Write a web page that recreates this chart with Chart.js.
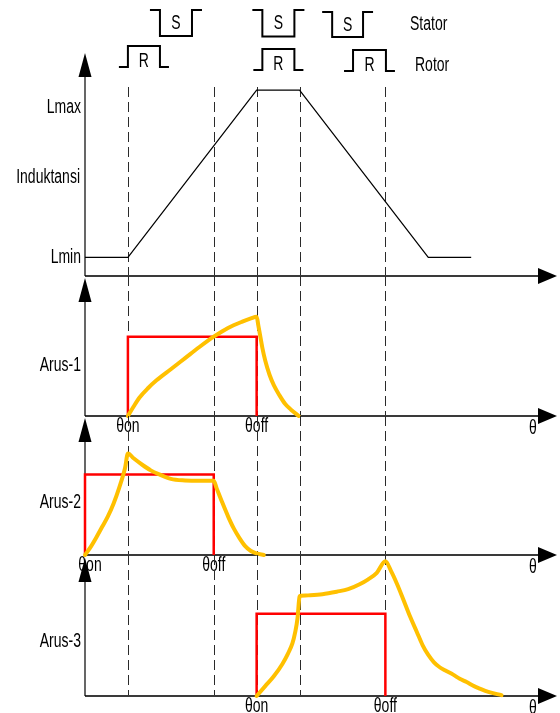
<!DOCTYPE html>
<html>
<head>
<meta charset="utf-8">
<script src="https://cdn.jsdelivr.net/npm/chart.js@4/dist/chart.umd.min.js"></script>
<style>
  html, body { margin: 0; padding: 0; background: #fff; }
  #wrap { position: relative; width: 560px; height: 713px; overflow: hidden; }
  #wrap canvas { position: absolute; left: 0; top: 0; }
</style>
</head>
<body>
<div id="wrap">
  <canvas id="pInd" width="560" height="713"></canvas>
  <canvas id="pA1" width="560" height="713"></canvas>
  <canvas id="pA2" width="560" height="713"></canvas>
  <canvas id="pA3" width="560" height="713"></canvas>
</div>
<script>
// ---- rotor angle (deg) ----
const thetaMax = 165;
const markAngles = [15, 45, 60, 75, 105];   // dashed reference instants

// ---- inductance profile ----
const Lmin = 1;
const Lmax = 10;
const indTheta = [0, 15, 60, 75, 120, 135];
const indValue = [Lmin, Lmin, Lmax, Lmax, Lmin, Lmin];

// ---- phase current, case 1 (on at 15, off at 60) ----
const ref1Theta = [15, 15, 60, 60];
const ref1Value = [0, 1, 1, 0];
const arus1Theta = [15, 17, 19, 22, 25, 30, 35, 40, 45, 50, 55, 58, 60, 60.6, 61.2, 62, 63, 64.5, 66, 68, 70, 72, 74.7];
const arus1Value = [0, 0.12, 0.23, 0.35, 0.45, 0.59, 0.73, 0.87, 1.0, 1.11, 1.19, 1.23, 1.25, 1.14, 1.02, 0.86, 0.70, 0.52, 0.39, 0.26, 0.15, 0.08, 0];

// ---- phase current, case 2 (on at 0, off at 45) ----
const ref2Theta = [0, 0, 45, 45];
const ref2Value = [0, 1, 1, 0];
const arus2Theta = [0, 2, 4, 6, 8, 10, 12, 14, 15, 17, 20, 23, 26, 30, 35, 40, 45, 46, 48, 50, 52, 54, 56, 58, 60, 62.5];
const arus2Value = [0, 0.1, 0.22, 0.35, 0.48, 0.64, 0.84, 1.08, 1.26, 1.2, 1.12, 1.05, 1.0, 0.945, 0.925, 0.92, 0.92, 0.83, 0.65, 0.48, 0.33, 0.21, 0.11, 0.05, 0.02, 0];

// ---- phase current, case 3 (on at 60, off at 105) ----
const ref3Theta = [60, 60, 105, 105];
const ref3Value = [0, 1, 1, 0];
const arus3Theta = [60, 63, 66, 69, 71, 72.5, 73.5, 74.3, 75, 75.4, 78, 83, 88, 92, 96, 99, 102, 105, 107, 109, 111, 113.6, 116, 118, 120, 122, 124, 126, 128.7, 131, 133.4, 136, 138, 141, 145.6];
const arus3Value = [0, 0.12, 0.24, 0.39, 0.52, 0.64, 0.78, 0.95, 1.21, 1.22, 1.225, 1.24, 1.27, 1.30, 1.36, 1.42, 1.50, 1.64, 1.52, 1.37, 1.20, 0.97, 0.78, 0.62, 0.50, 0.41, 0.35, 0.31, 0.26, 0.21, 0.17, 0.12, 0.09, 0.05, 0.01];

// ---- stator / rotor pole sketches (box edges in deg) ----
const statorPoles = [[26.2, 37.4], [62.0, 73.2], [86.4, 97.2]];
const rotorPoles  = [[15.0, 26.2], [62.0, 73.2], [93.7, 105.2]];

const FONT = '14px "Liberation Sans", Arial, sans-serif';
const STRETCH = 1.4;
const CURRENT_COLOR = '#ffc000';
const REF_COLOR = '#ff0000';

function pts(xs, ys) { return xs.map((x, i) => ({ x: x, y: ys[i] })); }

function text(ctx, str, x, y, align) {
  ctx.save();
  ctx.font = FONT;
  ctx.fillStyle = '#000';
  ctx.textAlign = align || 'center';
  ctx.textBaseline = 'middle';
  ctx.translate(x, y);
  ctx.scale(1, STRETCH);
  ctx.fillText(str, 0, 0);
  ctx.restore();
}

function drawAxes(chart, dashTop) {
  const ctx = chart.ctx;
  const a = chart.chartArea;
  const xs = chart.scales.x, ys = chart.scales.y;
  const y0 = ys.getPixelForValue(0);
  ctx.save();
  // dashed reference lines
  ctx.strokeStyle = '#2a2a2a';
  ctx.lineWidth = 1;
  ctx.setLineDash([10, 5]);
  markAngles.forEach(t => {
    const px = Math.round(xs.getPixelForValue(t)) + 0.5;
    ctx.beginPath();
    ctx.moveTo(px, dashTop);
    ctx.lineTo(px, y0);
    ctx.stroke();
  });
  ctx.setLineDash([]);
  // horizontal axis with arrow
  ctx.strokeStyle = '#3a3a3a';
  ctx.fillStyle = '#000';
  ctx.lineWidth = 1.8;
  ctx.beginPath();
  ctx.moveTo(a.left, y0);
  ctx.lineTo(a.right - 18, y0);
  ctx.stroke();
  ctx.beginPath();
  ctx.moveTo(a.right - 19, y0 - 8);
  ctx.lineTo(a.right, y0);
  ctx.lineTo(a.right - 19, y0 + 8);
  ctx.closePath();
  ctx.fill();
  // vertical axis with arrow
  ctx.strokeStyle = '#000';
  ctx.lineWidth = 1.2;
  ctx.beginPath();
  ctx.moveTo(a.left, y0);
  ctx.lineTo(a.left, a.top + 20);
  ctx.stroke();
  ctx.beginPath();
  ctx.moveTo(a.left - 6.5, a.top + 24);
  ctx.lineTo(a.left, a.top);
  ctx.lineTo(a.left + 6.5, a.top + 24);
  ctx.closePath();
  ctx.fill();
  ctx.restore();
}

function thetaLabels(chart, onAt, offAt, onShift) {
  const ctx = chart.ctx;
  const xs = chart.scales.x, ys = chart.scales.y;
  const y0 = ys.getPixelForValue(0);
  text(ctx, 'θon', xs.getPixelForValue(onAt) + (onShift || 0), y0 + 11);
  text(ctx, 'θoff', xs.getPixelForValue(offAt), y0 + 11);
  text(ctx, 'θ', xs.getPixelForValue(156.6), y0 + 13);
}

function makePanel(id, padding, yMax, datasets, decor) {
  return new Chart(document.getElementById(id), {
    type: 'line',
    data: { datasets: datasets },
    options: {
      responsive: false,
      animation: false,
      devicePixelRatio: 1,
      events: [],
      layout: { padding: padding, autoPadding: false },
      plugins: { legend: { display: false }, tooltip: { enabled: false } },
      elements: { point: { radius: 0 } },
      scales: {
        x: { type: 'linear', min: 0, max: thetaMax, display: false },
        y: { type: 'linear', min: 0, max: yMax, display: false }
      }
    },
    plugins: [decor]
  });
}

function currentSet(xs, ys) {
  return {
    data: pts(xs, ys), borderColor: CURRENT_COLOR, borderWidth: 4,
    cubicInterpolationMode: 'monotone', borderCapStyle: 'round',
    borderJoinStyle: 'round', fill: false, clip: false
  };
}
function refSet(xs, ys) {
  return {
    data: pts(xs, ys), borderColor: REF_COLOR, borderWidth: 2.5,
    tension: 0, borderJoinStyle: 'miter', fill: false, clip: false
  };
}

// ---- inductance panel ----
makePanel('pInd', { left: 85, right: 3, top: 53, bottom: 437 }, 12.0, [
  { data: pts(indTheta, indValue), borderColor: '#000', borderWidth: 1.2,
    tension: 0, fill: false, clip: false }
], {
  id: 'indDecor',
  beforeDatasetsDraw(chart) { drawAxes(chart, 87); },
  afterDraw(chart) {
    const ctx = chart.ctx, xs = chart.scales.x;
    text(ctx, 'Lmax', 81, 108, 'right');
    text(ctx, 'Induktansi', 80, 178, 'right');
    text(ctx, 'Lmin', 81, 258, 'right');
    // stator and rotor pole sketches
    const sY = [[10, 36], [10, 36.5], [12, 37]];
    const rY = [[46, 67], [49, 70], [50, 71]];
    ctx.save();
    ctx.strokeStyle = '#000';
    ctx.lineWidth = 2;
    ctx.lineJoin = 'miter';
    statorPoles.forEach((p, i) => {
      const l = xs.getPixelForValue(p[0]), r = xs.getPixelForValue(p[1]);
      const [top, bot] = sY[i];
      ctx.beginPath();
      ctx.moveTo(l - 10, top); ctx.lineTo(l, top); ctx.lineTo(l, bot);
      ctx.lineTo(r, bot); ctx.lineTo(r, top); ctx.lineTo(r + 10, top);
      ctx.stroke();
      text(ctx, 'S', (l + r) / 2, top + 13.5);
    });
    rotorPoles.forEach((p, i) => {
      const l = xs.getPixelForValue(p[0]), r = xs.getPixelForValue(p[1]);
      const [top, bot] = rY[i];
      ctx.beginPath();
      ctx.moveTo(l - 9, bot); ctx.lineTo(l, bot); ctx.lineTo(l, top);
      ctx.lineTo(r, top); ctx.lineTo(r, bot); ctx.lineTo(r + 9, bot);
      ctx.stroke();
      text(ctx, 'R', (l + r) / 2, bot - 5);
    });
    ctx.restore();
    text(ctx, 'Stator', 410, 25, 'left');
    text(ctx, 'Rotor', 415, 66, 'left');
  }
});

// ---- current panels ----
makePanel('pA1', { left: 85, right: 3, top: 278, bottom: 297 }, 1.74, [
  currentSet(arus1Theta, arus1Value), refSet(ref1Theta, ref1Value)
], {
  id: 'a1Decor',
  beforeDatasetsDraw(chart) { drawAxes(chart, 276); },
  afterDraw(chart) {
    text(chart.ctx, 'Arus-1', 81, 366, 'right');
    thetaLabels(chart, 15, 60, 0);
  }
});

makePanel('pA2', { left: 85, right: 3, top: 418, bottom: 158 }, 1.70, [
  currentSet(arus2Theta, arus2Value), refSet(ref2Theta, ref2Value)
], {
  id: 'a2Decor',
  beforeDatasetsDraw(chart) { drawAxes(chart, 416); },
  afterDraw(chart) {
    text(chart.ctx, 'Arus-2', 81, 503, 'right');
    thetaLabels(chart, 0, 45, 5);
  }
});

makePanel('pA3', { left: 85, right: 3, top: 558, bottom: 17 }, 1.68, [
  currentSet(arus3Theta, arus3Value), refSet(ref3Theta, ref3Value)
], {
  id: 'a3Decor',
  beforeDatasetsDraw(chart) { drawAxes(chart, 555); },
  afterDraw(chart) {
    text(chart.ctx, 'Arus-3', 81, 642, 'right');
    thetaLabels(chart, 60, 105, 0);
  }
});
</script>
</body>
</html>
